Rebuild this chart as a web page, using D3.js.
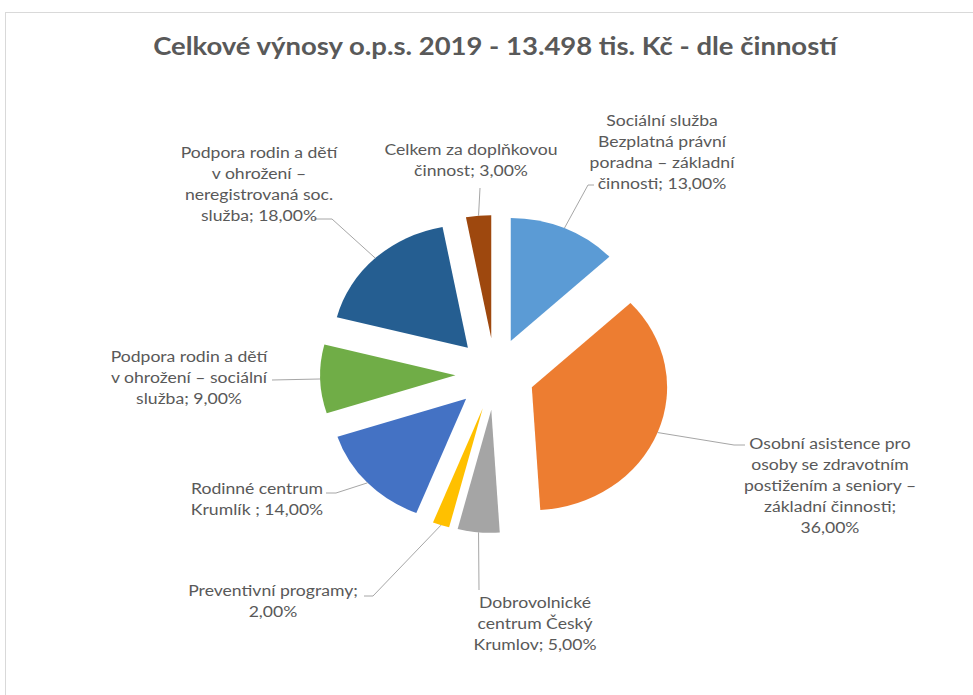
<!DOCTYPE html>
<html>
<head>
<meta charset="utf-8">
<script src="https://cdn.jsdelivr.net/npm/d3@7"></script>
<style>
  body { margin: 0; background: #fff; }
  svg text { font-family: Lato, "Open Sans", sans-serif; fill: #595959; }
</style>
</head>
<body>
<script>
// data
const categories = [
  ["Sociální služba", "Bezplatná právní", "poradna – základní", "činnosti; 13,00%"],
  ["Osobní asistence pro", "osoby se zdravotním", "postižením a seniory –", "základní činnosti;", "36,00%"],
  ["Dobrovolnické", "centrum Český", "Krumlov; 5,00%"],
  ["Preventivní programy;", "2,00%"],
  ["Rodinné centrum", "Krumlík ; 14,00%"],
  ["Podpora rodin a dětí", "v ohrožení – sociální", "služba; 9,00%"],
  ["Podpora rodin a dětí", "v ohrožení –", "neregistrovaná soc.", "služba; 18,00%"],
  ["Celkem za doplňkovou", "činnost; 3,00%"]
];
const values = [13, 36, 5, 2, 14, 9, 18, 3];
const colors = ["#5B9BD5", "#ED7D31", "#A5A5A5", "#FFC000", "#4472C4", "#70AD47", "#255E91", "#9E480E"];
const title = "Celkové výnosy o.p.s. 2019 - 13.498 tis. Kč - dle činností";

// label placement (centre x, first line centre y) and leader elbows
const labelPos = [
  { x: 662, y: 120, leader: [[588, 185], [594, 185]] },
  { x: 830, y: 443, leader: [[734, 445], [745, 445]] },
  { x: 535, y: 602, leader: [[479, 590]] },
  { x: 273, y: 590, leader: [[373, 596], [364, 596]] },
  { x: 257, y: 488, leader: [[336, 493], [326, 493]] },
  { x: 189, y: 356, leader: [[272, 380]] },
  { x: 259, y: 152, leader: [[332, 219], [314, 219]] },
  { x: 471, y: 149, leader: [[480, 188]] }
];

const W = 973, H = 695;
const cx = 495, cy = 374, R = 123, sx = 1.1, explode = 36;
const lineH = 21;

const svg = d3.select("body").append("svg")
  .attr("width", W)
  .attr("height", H);

svg.append("rect")
  .attr("x", 5.5).attr("y", 12.5)
  .attr("width", 1000).attr("height", 1000)
  .attr("fill", "#fff")
  .attr("stroke", "#d9d9d9");

svg.append("text")
  .attr("transform", "translate(" + cx + ",55) scale(1.145,1)")
  .attr("text-anchor", "middle")
  .attr("font-size", 24)
  .attr("font-weight", "bold")
  .text(title);

const pie = d3.pie().sort(null).value(d => d);
const arcs = pie(values);
const arc = d3.arc().innerRadius(0).outerRadius(R);
const mid = d => (d.startAngle + d.endAngle) / 2;

const gPie = svg.append("g")
  .attr("transform", "translate(" + cx + "," + cy + ") scale(" + sx + ",1)");

gPie.selectAll("path")
  .data(arcs)
  .enter()
  .append("path")
  .attr("d", arc)
  .attr("fill", (d, i) => colors[i])
  .attr("transform", d => "translate(" + (explode * Math.sin(mid(d))) + "," + (-explode * Math.cos(mid(d))) + ")");

// leader lines
const anchor = d => [cx + sx * (explode + R) * Math.sin(mid(d)), cy - (explode + R) * Math.cos(mid(d))];
svg.append("g")
  .selectAll("path")
  .data(arcs)
  .enter()
  .append("path")
  .attr("fill", "none")
  .attr("stroke", "#a6a6a6")
  .attr("stroke-width", 1)
  .attr("d", (d, i) => d3.line()([anchor(d), ...labelPos[i].leader]));

// labels
const gLabels = svg.append("g")
  .selectAll("text")
  .data(categories)
  .enter()
  .append("text")
  .attr("text-anchor", "middle")
  .attr("font-size", 16)
  .attr("transform", (d, i) => "translate(" + labelPos[i].x + "," + labelPos[i].y + ") scale(1.1,1)");

gLabels.selectAll("tspan")
  .data(d => d)
  .enter()
  .append("tspan")
  .attr("x", 0)
  .attr("y", (d, i) => i * lineH)
  .attr("dy", "0.35em")
  .text(d => d);
</script>
</body>
</html>
